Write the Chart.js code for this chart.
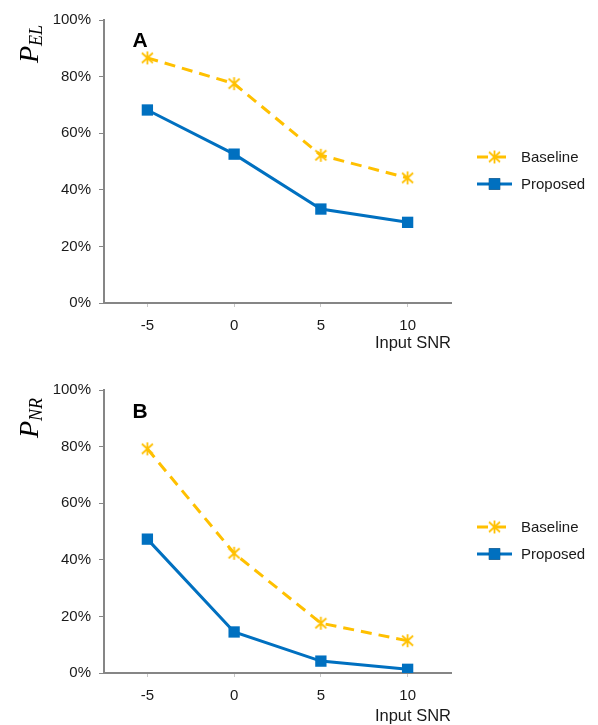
<!DOCTYPE html>
<html lang="en">
<head>
  <meta charset="UTF-8">
  <title>P_EL and P_NR vs Input SNR</title>
  <script src="https://cdn.jsdelivr.net/npm/chart.js"></script>
  <style>
    body {
      margin: 0;
      background: #fff;
      font-family: "Liberation Sans", Arial, sans-serif;
    }
    #wrap {
      position: relative;
      width: 598px;
      height: 725px;
    }
    canvas {
      position: absolute;
      left: 0;
    }
    .ytitle {
      position: absolute;
      font-family: "Liberation Serif", "Times New Roman", serif;
      font-style: italic;
      font-size: 28px;
      color: #000;
      transform: translate(-50%, -50%) rotate(-90deg);
      white-space: nowrap;
    }
    .ytitle sub {
      font-size: 18px;
      vertical-align: -4px;
    }
    .panel {
      position: absolute;
      font-weight: bold;
      font-size: 21px;
      color: #000;
      transform: translate(-50%, -50%);
    }
  </style>
</head>
<body>
  <div id="wrap">
    <canvas id="chartA" width="598" height="362" style="top:0"></canvas>
    <canvas id="chartB" width="598" height="363" style="top:362px"></canvas>
    <div class="ytitle" style="left:30px; top:44px">P<sub>EL</sub></div>
    <div class="ytitle" style="left:30px; top:418px">P<sub>NR</sub></div>
    <div class="panel" style="left:140px; top:40px">A</div>
    <div class="panel" style="left:140px; top:411px">B</div>
  </div>

  <script>
    // data (percent)
    const snrLabels = ['-5', '0', '5', '10'];
    const baselineEL = [86.6, 77.5, 52.2, 44.2];
    const proposedEL = [68.2, 52.6, 33.2, 28.5];
    const baselineNR = [79.2, 42.3, 17.6, 11.4];
    const proposedNR = [47.3, 14.5, 4.2, 1.3];
    const seriesNames = ['Baseline', 'Proposed'];

    const yellow = '#FFC000';
    const blue = '#0070C0';
    const axisGrey = '#868686';
    const textColor = '#1a1a1a';
    const sans = '"Liberation Sans", Arial, sans-serif';

    // excel-like asterisk marker: vertical bar plus an X
    function asterisk(color) {
      const c = document.createElement('canvas');
      c.width = 15;
      c.height = 15;
      const g = c.getContext('2d');
      g.strokeStyle = color;
      g.lineWidth = 1.8;
      g.lineCap = 'butt';
      g.beginPath();
      g.moveTo(7.5, 1); g.lineTo(7.5, 14);
      g.moveTo(2, 2.5); g.lineTo(13, 12.5);
      g.moveTo(13, 2.5); g.lineTo(2, 12.5);
      g.stroke();
      return c;
    }
    const starImg = asterisk(yellow);

    // legend on the right, line sample with marker in the middle
    const sideLegend = {
      id: 'sideLegend',
      afterDraw(chart, args, opts) {
        const ctx = chart.ctx;
        ctx.save();
        chart.data.datasets.forEach((ds, i) => {
          const y = opts.top + i * 27;
          ctx.strokeStyle = ds.borderColor;
          ctx.lineWidth = 3;
          ctx.setLineDash(ds.borderDash || []);
          ctx.beginPath();
          ctx.moveTo(477, y);
          ctx.lineTo(512, y);
          ctx.stroke();
          ctx.setLineDash([]);
          Chart.helpers.drawPoint(ctx, {
            pointStyle: ds.pointStyle,
            radius: ds.pointRadius,
            borderWidth: 0
          }, 494.5, y);
          if (ds.pointStyle === 'rect') {
            ctx.fillStyle = ds.pointBackgroundColor;
            ctx.fill();
          }
          ctx.fillStyle = textColor;
          ctx.font = '15px ' + sans;
          ctx.textBaseline = 'middle';
          ctx.textAlign = 'left';
          ctx.fillText(ds.label, 521, y + 1);
        });
        ctx.restore();
      }
    };

    function makeChart(id, baseline, proposed, padTop, xHeight, titlePad, legendTop) {
      return new Chart(document.getElementById(id), {
        type: 'line',
        data: {
          labels: snrLabels,
          datasets: [{
            label: seriesNames[0],
            data: baseline,
            borderColor: yellow,
            borderWidth: 3,
            borderDash: [11, 7],
            pointStyle: starImg,
            pointRadius: 7,
            pointBackgroundColor: yellow,
            tension: 0
          }, {
            label: seriesNames[1],
            data: proposed,
            borderColor: blue,
            borderWidth: 3,
            pointStyle: 'rect',
            pointRadius: 8,
            pointBorderWidth: 0,
            pointBorderColor: blue,
            pointBackgroundColor: blue,
            tension: 0
          }]
        },
        options: {
          responsive: false,
          animation: false,
          layout: { padding: { top: padTop, right: 147, left: 0, bottom: 0 } },
          plugins: {
            legend: { display: false },
            tooltip: { enabled: false },
            sideLegend: { top: legendTop }
          },
          scales: {
            x: {
              offset: true,
              afterFit: s => { s.height = xHeight; },
              grid: {
                drawOnChartArea: false,
                tickLength: 4,
                color: '#c8c8c8'
              },
              border: { color: axisGrey, width: 2 },
              ticks: {
                color: textColor,
                padding: 10,
                font: { family: sans, size: 15 }
              },
              title: {
                display: true,
                text: 'Input SNR',
                align: 'end',
                color: textColor,
                padding: { top: 0, bottom: titlePad },
                font: { family: sans, size: 16.5, lineHeight: 1 }
              }
            },
            y: {
              min: 0,
              max: 100,
              afterFit: s => { s.width = 104; },
              grid: {
                drawOnChartArea: false,
                tickLength: 5,
                color: axisGrey
              },
              border: { color: axisGrey, width: 2 },
              ticks: {
                stepSize: 20,
                color: textColor,
                padding: 8,
                font: { family: sans, size: 15 },
                callback: v => v + '%'
              }
            }
          }
        },
        plugins: [sideLegend]
      });
    }

    makeChart('chartA', baselineEL, proposedEL, 20, 59, 10, 157);
    makeChart('chartB', baselineNR, proposedNR, 28, 52, 0, 165);
  </script>
</body>
</html>
